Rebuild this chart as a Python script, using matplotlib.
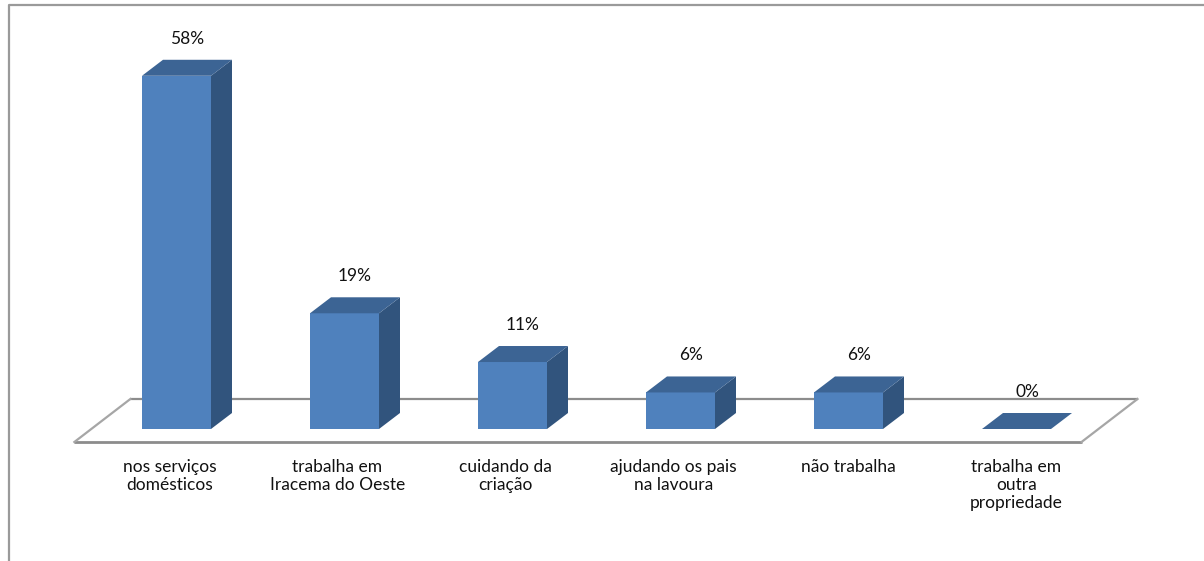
import matplotlib.pyplot as plt
from matplotlib.patches import Polygon

categories = ['nos serviços\ndomésticos', 'trabalha em\nIracema do Oeste', 'cuidando da\ncriação',
              'ajudando os pais\nna lavoura', 'não trabalha', 'trabalha em\noutra\npropriedade']
values = [58, 19, 11, 6, 6, 0]
labels = ['58%', '19%', '11%', '6%', '6%', '0%']

plt.rcParams['font.family'] = ['Lato', 'DejaVu Sans']

W, H = 1204, 561
px_cat = 168.0    # pixels per category
px_val = 6.09     # pixels per percent
x0, y0 = 176.5, 429.0    # pixel position of first bar centre / baseline
dx = 21 / px_cat   # depth of the fake 3d
dy = 16 / px_val

fig = plt.figure(figsize=(W / 100, H / 100), dpi=100)
ax = fig.add_axes([0, 0, 1, 1])
ax.set_xlim(-x0 / px_cat, (W - x0) / px_cat)
ax.set_ylim((y0 - H) / px_val, y0 / px_val)
ax.axis('off')

grey = '#8c8c8c'

# outer chart frame, only top and left are in view
ax.plot([8.5, 8.5, W], [H, 4.5, 4.5], color='none')
fig.add_artist(plt.Line2D([8.5 / W, 8.5 / W, 1], [0, 1 - 4.5 / H, 1 - 4.5 / H], color='#9a9a9a', lw=1.6))

# floor
fl, fr = -0.608, 5.387
yf = -13 / px_val
ax.plot([fl, fr], [yf, yf], color=grey, lw=2, zorder=1, solid_capstyle='butt')
ax.plot([fl + 56 / px_cat, fr + 56 / px_cat], [30 / px_val, 30 / px_val], color=grey, lw=1.6, zorder=1,
        solid_capstyle='butt')
ax.plot([fl, fl + 56 / px_cat], [yf, 30 / px_val], color='#a6a6a6', lw=1.6, zorder=1)
ax.plot([fr, fr + 56 / px_cat], [yf, 30 / px_val], color='#a6a6a6', lw=1.6, zorder=1)

# bars
xs = list(range(len(values)))
width = 69 / px_cat
ax.bar(xs, values, width=width, color='#4f81bd', zorder=3)
for x, v, lab, cat in zip(xs, values, labels, categories):
    left, right = x - width / 2, x + width / 2
    ax.add_patch(Polygon([(right, 0), (right + dx, dy), (right + dx, v + dy), (right, v)],
                         color='#31547d', lw=0, zorder=2))
    ax.add_patch(Polygon([(left, v), (left + dx, v + dy), (right + dx, v + dy), (right, v)],
                         color='#3c6494', lw=0, zorder=3))
    ax.annotate(lab, (x + dx / 2, v + dy), xytext=(0, 21), textcoords='offset pixels',
                ha='center', va='center', fontsize=12.5, color='#111111')
    ax.annotate(cat, (x - 0.11 * 0 , yf), xytext=(-7 if x < 4 else 0, -17), textcoords='offset pixels',
                ha='center', va='top', fontsize=12.5, color='#111111', linespacing=1.15)

fig.savefig('out.png', dpi=100)
